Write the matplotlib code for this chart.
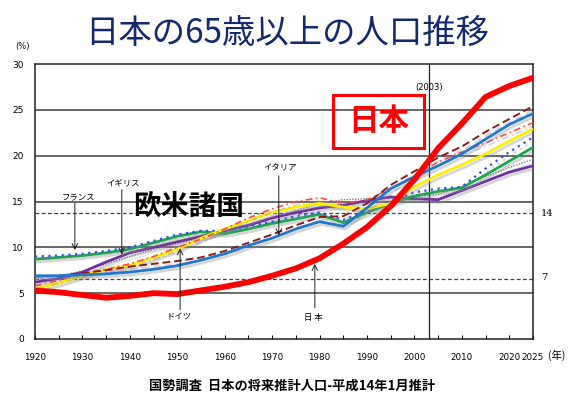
"""日本の65歳以上の人口推移 (line chart recreated with matplotlib)."""

import matplotlib
matplotlib.use('Agg')
import matplotlib.pyplot as plt
import matplotlib.patheffects as pe
from matplotlib.patches import Rectangle

plt.rcParams['font.family'] = ['Noto Sans CJK JP', 'DejaVu Sans']

years = [1920, 1925, 1930, 1935, 1940, 1945, 1950, 1955, 1960, 1965, 1970,
         1975, 1980, 1985, 1990, 1995, 2000, 2005, 2010, 2015, 2020, 2025]

japan = [5.3, 5.1, 4.8, 4.5, 4.7, 5.0, 4.9, 5.3, 5.7, 6.2, 6.9,
         7.7, 8.8, 10.4, 12.2, 14.5, 17.4, 20.8, 23.5, 26.4, 27.6, 28.5]
blue_solid = [6.9, 6.9, 7.0, 7.1, 7.3, 7.6, 8.0, 8.6, 9.3, 10.2, 11.0,
              12.0, 12.8, 12.3, 14.3, 16.4, 17.7, 18.9, 20.2, 21.8, 23.4, 24.6]
brown_dash = [6.8, 6.9, 7.2, 7.5, 7.9, 8.2, 8.5, 8.9, 9.6, 10.5, 11.4,
              12.4, 13.3, 13.4, 14.8, 16.8, 18.3, 19.8, 21.0, 22.6, 24.0, 25.4]
green = [8.7, 8.9, 9.1, 9.4, 9.8, 10.5, 11.2, 11.7, 11.5, 12.0, 12.6,
         13.1, 13.6, 12.7, 13.8, 14.8, 15.6, 16.1, 16.5, 17.9, 19.4, 20.9]
blue_dot = [9.0, 9.1, 9.3, 9.6, 10.0, 10.7, 11.4, 11.8, 11.8, 12.3, 12.8,
            13.4, 13.8, 13.0, 14.0, 15.0, 16.0, 16.4, 16.6, 18.6, 20.4, 22.0]
purple = [6.2, 6.6, 7.3, 8.4, 9.4, 10.0, 10.6, 11.2, 11.8, 12.4, 13.2,
          13.8, 14.3, 14.6, 15.1, 15.5, 15.3, 15.2, 16.2, 17.2, 18.2, 18.9]
yellow = [5.5, 6.1, 6.9, 7.6, 8.0, 8.9, 9.8, 11.0, 12.0, 12.9, 13.8,
          14.4, 14.8, 14.4, 14.2, 14.8, 16.6, 17.9, 19.0, 20.2, 21.6, 22.9]
red_dashdot = [5.8, 6.4, 7.1, 7.6, 8.2, 9.0, 10.0, 10.9, 12.0, 13.2, 14.2,
               15.0, 15.4, 14.8, 15.2, 16.4, 17.8, 19.3, 20.4, 21.4, 22.5, 23.6]
gray_dot = [6.5, 6.9, 7.4, 8.2, 9.0, 9.8, 10.4, 11.0, 11.7, 12.4, 13.2,
            14.0, 14.8, 15.2, 15.3, 15.4, 15.5, 15.8, 16.6, 17.7, 18.7, 19.6]

x_ticks = [1920, 1930, 1940, 1950, 1960, 1970, 1980, 1990, 2000, 2010, 2020, 2025]
y_ticks = [0, 5, 10, 15, 20, 25, 30]

W, H = 582, 416
fig = plt.figure(figsize=(W / 100, H / 100), dpi=100)
fig.patch.set_facecolor('white')
ax = fig.add_axes([35 / W, 1 - 339 / H, 498 / W, 275 / H])

ax.set_xlim(1920, 2025)
ax.set_ylim(0, 30)

# grid
for v in [5, 10, 15, 20, 25]:
    ax.axhline(v, color='#404040', lw=1.1, zorder=1)
for v in [6.6, 13.7]:
    ax.axhline(v, color='#404040', lw=0.9, ls=(0, (3, 2)), zorder=1)
ax.axvline(2003, color='#202020', lw=0.9, zorder=1)

shadow = [pe.SimpleLineShadow(offset=(1.5, -2), shadow_color='#888888', alpha=0.35),
          pe.Normal()]

series = [
    (gray_dot, '#808080', (0, (1, 1)), 1.0),
    (purple, '#7030A0', '-', 2.0),
    (green, '#1AA64A', '-', 2.0),
    (blue_dot, '#2E4BFF', (0, (1, 2)), 1.6),
    (yellow, '#FFEE00', '-', 2.0),
    (red_dashdot, '#FF4A4A', (0, (4, 2, 1, 2)), 1.2),
    (brown_dash, '#8B1A1A', (0, (4, 2)), 1.4),
    (blue_solid, '#1E78D0', '-', 2.0),
]
for vals, col, ls, lw in series:
    ax.plot(years, vals, color=col, ls=ls, lw=lw, zorder=3, path_effects=shadow)

ax.plot(years, japan, color='#FF0000', lw=4.2, zorder=5, solid_capstyle='round')

for s in ax.spines.values():
    s.set_color('#202020')
    s.set_linewidth(1.1)

ax.set_yticks(y_ticks)
ax.set_yticklabels([str(v) for v in y_ticks], fontsize=6.5, family='DejaVu Sans')
ax.tick_params(axis='y', length=0, pad=8)
ax.set_xticks(x_ticks)
ax.set_xticklabels([str(v) for v in x_ticks], fontsize=6.3, family='DejaVu Sans')
ax.set_xticks(range(1925, 2025, 5), minor=True)
ax.tick_params(axis='x', which='both', direction='in', length=3, pad=10, width=0.8)

# annotations
arrow = dict(arrowstyle='->', color='#202020', lw=0.7, shrinkA=0, shrinkB=0)
notes = [
    ('フランス', 1929.1, 15.5, 1928.4, 14.8, 9.7),
    ('イギリス', 1938.6, 17.0, 1938.3, 16.3, 9.2),
    ('イタリア', 1971.7, 18.7, 1971.4, 17.8, 11.3),
    ('ドイツ', 1950.4, 2.4, 1950.6, 3.2, 9.9),
    ('日 本', 1978.6, 2.3, 1979.0, 3.4, 8.2),
]
for label, tx, ty, ax_x, y0, y1 in notes:
    ax.text(tx, ty, label, fontsize=6, ha='center', va='center', zorder=6)
    ax.annotate('', xy=(ax_x, y1), xytext=(ax_x, y0), arrowprops=arrow, zorder=6)

ax.text(2003, 27.4, '(2003)', fontsize=6, ha='center', va='center', family='DejaVu Sans')
ax.text(1952.3, 14.4, '欧米諸国', fontsize=20, fontweight='bold', ha='center',
        va='center', zorder=7)

box = Rectangle((333 / W, 1 - 148 / H), 91 / W, 53 / H, transform=fig.transFigure,
                fill=False, edgecolor='#FF0000', lw=2.2, zorder=8)
fig.patches.append(box)
fig.text(379 / W, 1 - 121 / H, '日本', fontsize=22, fontweight='bold', color='#FF0000',
         ha='center', va='center')

fig.text(541 / W, 1 - 214 / H, '14', fontsize=7, ha='left', va='center', family='DejaVu Serif')
fig.text(541 / W, 1 - 278 / H, '7', fontsize=7, ha='left', va='center', family='DejaVu Serif')
fig.text(22 / W, 1 - 47 / H, '(%)', fontsize=6, ha='center', va='center', family='DejaVu Sans')
fig.text(557 / W, 1 - 355 / H, '(年)', fontsize=7.5, ha='center', va='center')

fig.text(287 / W, 1 - 33 / H, '日本の65歳以上の人口推移', fontsize=24, color='#12296E',
         ha='center', va='center')
fig.text(292 / W, 1 - 386 / H, '国勢調査  日本の将来推計人口-平成14年1月推計', fontsize=9.5,
         fontweight='bold', ha='center', va='center')

fig.savefig('out.png', dpi=100)
